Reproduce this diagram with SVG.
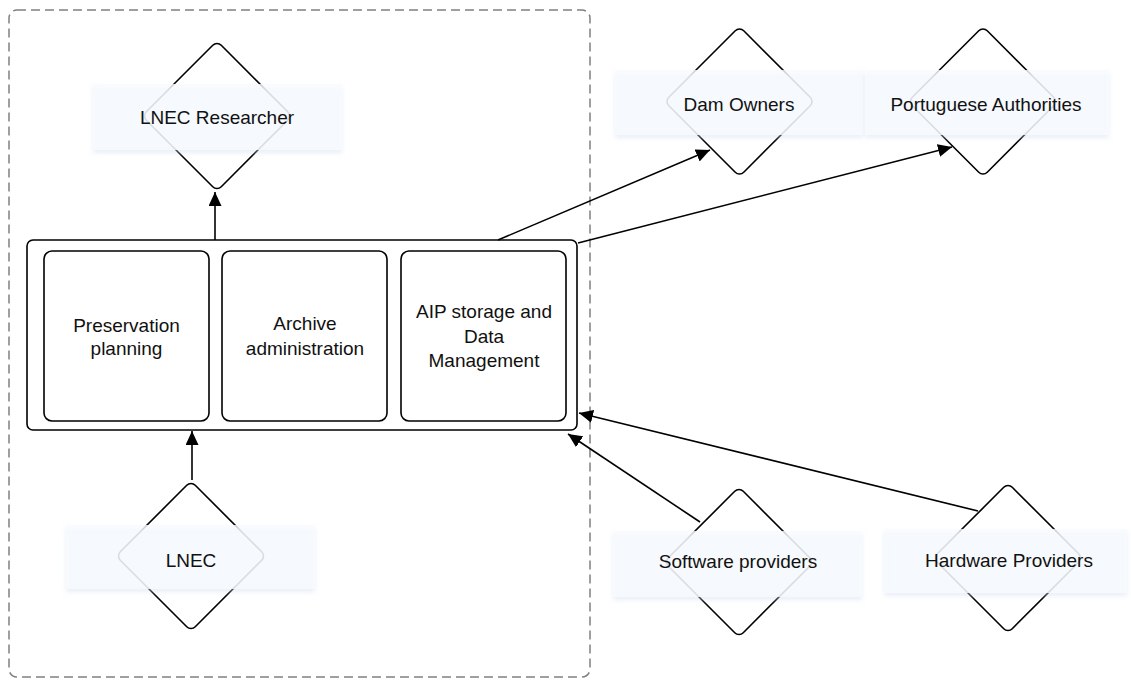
<svg xmlns="http://www.w3.org/2000/svg" width="1131" height="680" viewBox="0 0 1131 680">
<style>
text{font-family:"Liberation Sans",Arial,sans-serif;font-size:19px;fill:#111;text-anchor:middle}
.dia{fill:#fff;stroke:#000;stroke-width:1.6}
.lbl{fill:#f9fbfe;fill-opacity:0.8;filter:url(#sh)}
.box{fill:#fff;stroke:#000;stroke-width:1.6}
.con{stroke:#000;stroke-width:1.6;fill:none;marker-end:url(#arr)}
</style>
<defs>
<filter id="sh" x="-10%" y="-20%" width="120%" height="160%">
<feDropShadow dx="0" dy="3" stdDeviation="2.5" flood-color="#cddbef" flood-opacity="0.55"/>
</filter>
<marker id="arr" markerUnits="userSpaceOnUse" markerWidth="15" markerHeight="13" refX="14" refY="6.5" orient="auto">
<path d="M0,0 L14,6.5 L0,13 z" fill="#000"/>
</marker>
</defs>
<rect x="9" y="10" width="581" height="667" rx="8" fill="none" stroke="#808080" stroke-width="1.5" stroke-dasharray="9 5"/>

<g id="archive">
<rect class="box" x="27" y="240" width="550" height="190" rx="6"/>
<g id="preservation">
<rect class="box" x="44" y="251" width="165" height="170" rx="8"/>
<text x="126.5" y="332">Preservation</text>
<text x="126.5" y="355">planning</text>
</g>
<g id="administration">
<rect class="box" x="222" y="251" width="165" height="170" rx="8"/>
<text x="305" y="330">Archive</text>
<text x="305" y="355">administration</text>
</g>
<g id="storage">
<rect class="box" x="401" y="251" width="165" height="170" rx="8"/>
<text x="484" y="318">AIP storage and</text>
<text x="484" y="343">Data</text>
<text x="484" y="367">Management</text>
</g>
</g>

<g id="lnec-researcher">
<rect class="dia" x="-53" y="-53" width="106" height="106" rx="6" transform="translate(217 116) rotate(45)"/>
<rect class="lbl" x="93" y="84" width="249" height="66"/>
<text x="217" y="124">LNEC Researcher</text>
</g>
<g id="dam-owners">
<rect class="dia" x="-53" y="-53" width="106" height="106" rx="6" transform="translate(739.5 101.5) rotate(45)"/>
<rect class="lbl" x="615" y="70" width="248" height="65"/>
<text x="739" y="111">Dam Owners</text>
</g>
<g id="portuguese-authorities">
<rect class="dia" x="-53" y="-53" width="106" height="106" rx="6" transform="translate(983 101.5) rotate(45)"/>
<rect class="lbl" x="865" y="70" width="244" height="65"/>
<text x="986" y="111">Portuguese Authorities</text>
</g>
<g id="lnec">
<rect class="dia" x="-53" y="-53" width="106" height="106" rx="6" transform="translate(191 556) rotate(45)"/>
<rect class="lbl" x="66" y="525" width="249" height="64"/>
<text x="191" y="567">LNEC</text>
</g>
<g id="software-providers">
<rect class="dia" x="-53" y="-53" width="106" height="106" rx="6" transform="translate(739 562) rotate(45)"/>
<rect class="lbl" x="613" y="531" width="249" height="66"/>
<text x="738" y="568">Software providers</text>
</g>
<g id="hardware-providers">
<rect class="dia" x="-53" y="-53" width="106" height="106" rx="6" transform="translate(1008 558) rotate(45)"/>
<rect class="lbl" x="884" y="529" width="243" height="64"/>
<text x="1009" y="567">Hardware Providers</text>
</g>

<g id="connectors">
<line class="con" x1="215" y1="240" x2="215" y2="192"/>
<line class="con" x1="498" y1="240" x2="710" y2="150"/>
<line class="con" x1="578" y1="243" x2="952" y2="147"/>
<line class="con" x1="192" y1="480" x2="192" y2="431"/>
<line class="con" x1="700" y1="522" x2="568" y2="434"/>
<line class="con" x1="978" y1="511" x2="579" y2="413"/>
</g>
</svg>
